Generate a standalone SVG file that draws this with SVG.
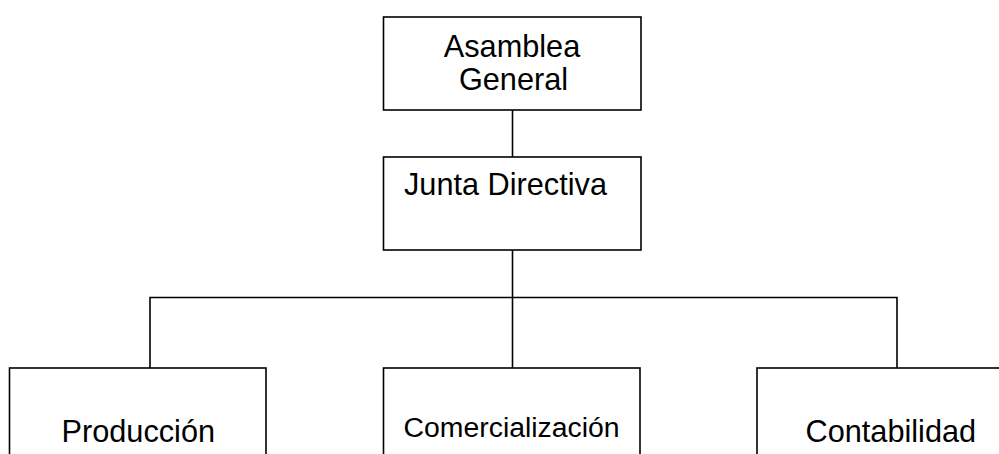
<svg xmlns="http://www.w3.org/2000/svg" width="999" height="454" viewBox="0 0 999 454">
<style>
.box{fill:#fff;stroke:#000;stroke-width:1.6}
.ln{fill:none;stroke:#000;stroke-width:1.6}
text{font-family:"Liberation Sans",Arial,sans-serif;fill:#000;font-size:30.7px}
</style>
<rect width="999" height="454" fill="#fff"/>
<g id="connectors">
<line class="ln" x1="512.5" y1="110" x2="512.5" y2="157"/>
<line class="ln" x1="512.5" y1="250" x2="512.5" y2="368"/>
<polyline class="ln" points="150,368 150,297.5 897,297.5 897,368"/>
</g>
<g id="asamblea">
<rect class="box" x="383.5" y="17" width="257.5" height="93"/>
<text x="512" y="57" text-anchor="middle">Asamblea</text>
<text x="513.5" y="90" text-anchor="middle">General</text>
</g>
<g id="junta">
<rect class="box" x="383.5" y="157" width="257.5" height="93"/>
<text x="404" y="195">Junta Directiva</text>
</g>
<g id="produccion">
<rect class="box" x="9.5" y="368" width="256.5" height="100"/>
<text x="61.5" y="441.5">Producción</text>
</g>
<g id="comercializacion">
<rect class="box" x="383.5" y="368" width="256.5" height="100"/>
<text x="403.5" y="437" style="font-size:28.4px">Comercialización</text>
</g>
<g id="contabilidad">
<rect class="box" x="757" y="368" width="260" height="100"/>
<text x="805.5" y="441.5">Contabilidad</text>
</g>
</svg>
